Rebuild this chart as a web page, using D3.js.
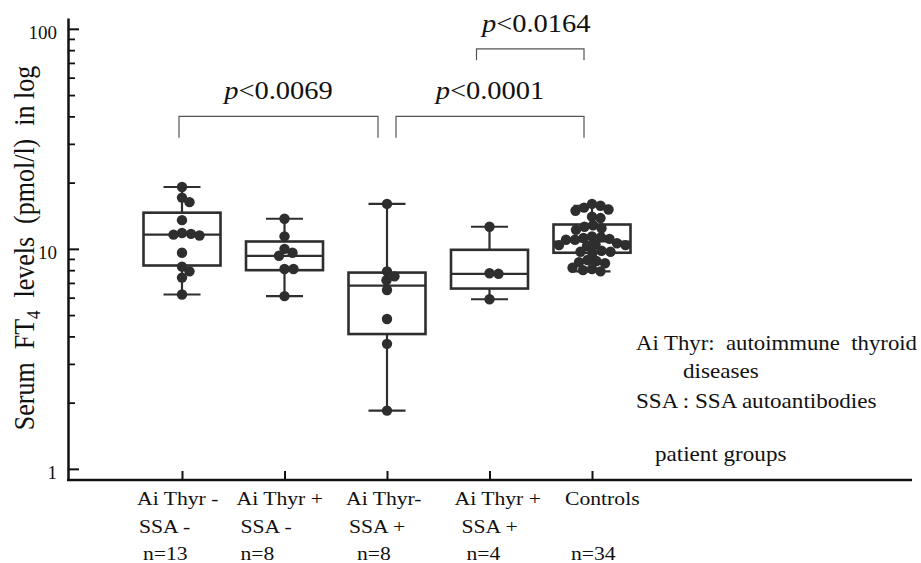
<!DOCTYPE html>
<html>
<head>
<meta charset="utf-8">
<script src="https://cdn.jsdelivr.net/npm/d3@7"></script>
<style>
  body { margin: 0; background: #fff; }
  svg { display: block; }
  text { white-space: pre; fill: #111; font-family: "Liberation Serif", "Times New Roman", serif; }
</style>
</head>
<body>
<div id="chart"></div>
<script>
// groups shown on the x axis
const groupLine1 = ["Ai Thyr -", "Ai Thyr +", "Ai Thyr-", "Ai Thyr +", "Controls"];
const groupLine2 = ["SSA -", "SSA -", "SSA +", "SSA +", ""];
const groupN = [13, 8, 8, 4, 34];

// serum FT4 (pmol/l), one list per group
const aiMinusSsaMinus = [19.1, 17.1, 16.3, 13.5, 11.8, 11.7, 11.6, 11.5, 9.6, 8.3, 7.9, 7.4, 6.2];
const aiPlusSsaMinus = [13.7, 11.4, 10.0, 9.6, 9.3, 8.1, 8.1, 6.1];
const aiMinusSsaPlus = [16.0, 7.9, 7.5, 7.2, 6.5, 4.8, 3.7, 1.84];
const aiPlusSsaPlus = [12.6, 7.75, 7.7, 5.9];
const controls = [16.0, 15.7, 15.4, 15.1, 14.9, 14.0, 13.8, 12.8, 12.6, 12.4, 12.2,
                  11.4, 11.3, 11.2, 11.1, 11.0, 11.0, 10.6, 10.5, 10.4, 10.4, 10.3,
                  9.8, 9.7, 9.7, 9.6, 8.9, 8.8, 8.7, 8.6, 8.2, 8.1, 8.0, 7.9];

// box plot statistics
const boxLow = [6.2, 6.1, 1.84, 5.9, 7.9];
const boxQ1 = [8.4, 8.0, 4.1, 6.6, 9.6];
const boxMedian = [11.6, 9.3, 6.8, 7.7, 10.8];
const boxQ3 = [14.6, 10.8, 7.8, 9.9, 12.9];
const boxHigh = [19.1, 13.7, 16.0, 12.6, 15.7];

// significance brackets
const bracketPairs = [[0, 2], [2, 4], [3, 4]];
const bracketTop = [40, 40, 81];
const bracketFoot = [32, 32, 72];
const bracketP = ["<0.0069", "<0.0001", "<0.0164"];

const yTicks = [1, 10, 100];
const yMinorTicks = [2, 3, 4, 5, 6, 7, 8, 9, 20, 30, 40, 50, 60, 70, 80, 90];

const groupValues = [aiMinusSsaMinus, aiPlusSsaMinus, aiMinusSsaPlus, aiPlusSsaPlus, controls];

const width = 921, height = 563;
const ink = "#2e2e2e";
const serif = "Liberation Serif, Times New Roman, serif";
const sx = 1.14; // text in the figure is a bit wider than normal

const svg = d3.select("#chart").append("svg")
    .attr("width", width)
    .attr("height", height)
    .attr("font-family", serif);

svg.append("rect").attr("width", width).attr("height", height).attr("fill", "#fff");

const y = d3.scaleLog().domain([0.89, 112]).range([480, 18]);
const x = d3.scalePoint().domain(d3.range(groupLine1.length)).range([182, 592]);

// y axis
const yAxis = svg.append("g")
    .attr("transform", "translate(68,0)")
    .call(d3.axisLeft(y).tickValues(yTicks).tickSize(-11).tickSizeOuter(0)
        .tickPadding(11).tickFormat(d3.format("d")));
yAxis.attr("font-family", serif);
yAxis.select(".domain").attr("stroke", "#111").attr("stroke-width", 2.5);
yAxis.selectAll(".tick line").attr("stroke", "#111").attr("stroke-width", 2);
yAxis.selectAll(".tick text")
    .attr("font-size", 19)
    .attr("dy", "0.5em")
    .attr("fill", "#111");

const yMinor = svg.append("g")
    .attr("transform", "translate(68,0)")
    .call(d3.axisLeft(y).tickValues(yMinorTicks).tickSize(-7).tickFormat(""));
yMinor.select(".domain").remove();
yMinor.selectAll(".tick line").attr("stroke", "#111").attr("stroke-width", 1.8);

// x axis
const xAxis = svg.append("g")
    .attr("transform", "translate(0,480)")
    .call(d3.axisBottom(x).tickSize(-9).tickFormat(""));
xAxis.select(".domain").remove();
xAxis.selectAll(".tick line").attr("stroke", "#111").attr("stroke-width", 2);
svg.append("line")
    .attr("x1", 67).attr("x2", 912)
    .attr("y1", 480).attr("y2", 480)
    .attr("stroke", "#111").attr("stroke-width", 2.5);

// category labels (start offsets per line, relative to the tick)
const labelDx = [[-45, -43, -39], [-48, -44, -44], [-41, -38, -30], [-35, -28, -23], [-27, 0, -21]];
const labelY = [505, 533, 560];
groupLine1.forEach((name, i) => {
  const lines = [name, groupLine2[i], "n=" + groupN[i]];
  lines.forEach((t, j) => {
    if (!t) return;
    svg.append("text")
        .attr("transform", `translate(${x(i) + labelDx[i][j]},${labelY[j]}) scale(${sx},1)`)
        .attr("font-family", serif)
        .attr("font-size", 19)
        .text(t);
  });
});

// y title
const yTitle = svg.append("text")
    .attr("transform", `translate(34,248) rotate(-90) scale(1,${sx})`)
    .attr("text-anchor", "middle")
    .attr("font-family", serif)
    .attr("font-size", 26);
yTitle.append("tspan").text("Serum  FT");
yTitle.append("tspan").attr("font-size", 17).attr("dy", 5).text("4");
yTitle.append("tspan").attr("dy", -5).text("  levels  (pmol/l)  in log");

// boxes
const boxW = 77, capW = 37;
const boxes = svg.append("g").selectAll("g")
    .data(groupLine1.map((d, i) => i))
    .join("g")
    .attr("transform", i => `translate(${x(i)},0)`);

boxes.append("line")
    .attr("y1", i => y(boxHigh[i])).attr("y2", i => y(boxQ3[i]))
    .attr("stroke", ink).attr("stroke-width", 2.2);
boxes.append("line")
    .attr("y1", i => y(boxQ1[i])).attr("y2", i => y(boxLow[i]))
    .attr("stroke", ink).attr("stroke-width", 2.2);
boxes.append("line")
    .attr("x1", -capW / 2).attr("x2", capW / 2)
    .attr("y1", i => y(boxHigh[i])).attr("y2", i => y(boxHigh[i]))
    .attr("stroke", ink).attr("stroke-width", 2.2);
boxes.append("line")
    .attr("x1", -capW / 2).attr("x2", capW / 2)
    .attr("y1", i => y(boxLow[i])).attr("y2", i => y(boxLow[i]))
    .attr("stroke", ink).attr("stroke-width", 2.2);
boxes.append("rect")
    .attr("x", -boxW / 2).attr("width", boxW)
    .attr("y", i => y(boxQ3[i]))
    .attr("height", i => y(boxQ1[i]) - y(boxQ3[i]))
    .attr("fill", "#fff").attr("stroke", ink).attr("stroke-width", 2.6);
boxes.append("line")
    .attr("x1", -boxW / 2).attr("x2", boxW / 2)
    .attr("y1", i => y(boxMedian[i])).attr("y2", i => y(boxMedian[i]))
    .attr("stroke", ink).attr("stroke-width", 2.2);

// beeswarm dots
const r = 5.2, gap = 8.6;
function swarm(values) {
  const placed = [];
  values.slice().sort((a, b) => b - a).forEach(v => {
    const py = y(v);
    for (let k = 0; k < 400; k++) {
      const off = (k % 2 ? 1 : -1) * Math.ceil(k / 2) * 0.5;
      if (placed.every(p => (p.dx - off) ** 2 + (p.y - py) ** 2 >= gap * gap)) {
        placed.push({ dx: off, y: py });
        break;
      }
    }
  });
  return placed;
}

groupValues.forEach((vals, i) => {
  svg.append("g").selectAll("circle")
      .data(swarm(vals))
      .join("circle")
      .attr("cx", d => x(i) + d.dx)
      .attr("cy", d => d.y)
      .attr("r", r)
      .attr("fill", ink);
});

// significance brackets
const legInset = [[-3, -9], [9, -8], [-13, -8]];
bracketPairs.forEach(([a, b], k) => {
  const x1 = x(a) + legInset[k][0], x2 = x(b) + legInset[k][1];
  const top = y(bracketTop[k]), foot = y(bracketFoot[k]);
  svg.append("path")
      .attr("d", `M${x1},${foot}V${top}H${x2}V${foot}`)
      .attr("fill", "none")
      .attr("stroke", "#555")
      .attr("stroke-width", 1.2);
  const t = svg.append("text")
      .attr("transform", `translate(${(x1 + x2) / 2 + (k === 2 ? 6 : 0)},${top - 17}) scale(${sx},1)`)
      .attr("text-anchor", "middle")
      .attr("font-family", serif)
      .attr("font-size", 25);
  t.append("tspan").attr("font-style", "italic").text("p");
  t.append("tspan").text(bracketP[k]);
});

// notes on the right
const notes = [
  { t: "Ai Thyr:  autoimmune  thyroid", x: 636, y: 350, w: 281 },
  { t: "diseases", x: 683, y: 378 },
  { t: "SSA : SSA autoantibodies", x: 636, y: 408 },
  { t: "patient groups", x: 655, y: 461 }
];
notes.forEach(n => {
  const t = svg.append("text")
      .attr("x", n.x).attr("y", n.y)
      .attr("font-family", serif)
      .attr("font-size", 21)
      .text(n.t);
  if (n.w) t.attr("textLength", n.w).attr("lengthAdjust", "spacingAndGlyphs");
  else t.attr("transform", `translate(${n.x},0) scale(1.1,1) translate(${-n.x},0)`);
});
</script>
</body>
</html>
